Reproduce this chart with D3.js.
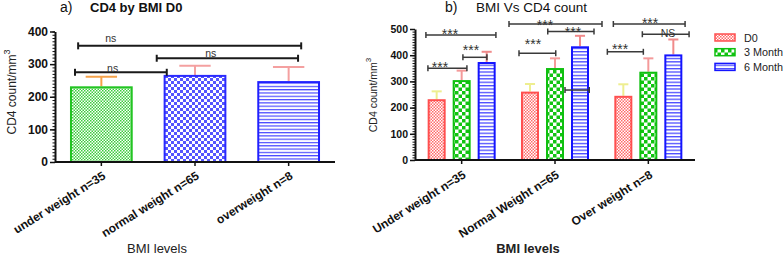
<!DOCTYPE html>
<html><head><meta charset="utf-8">
<script src="https://cdn.jsdelivr.net/npm/d3@7"></script>
<style>body{margin:0;background:#fff}svg{display:block;font-family:"Liberation Sans",Arial,sans-serif}</style>
</head><body><svg id="c" width="784" height="255"></svg>
<script>
// ---------- data ----------
const leftCats = ["under weight n=35", "normal weight n=65", "overweight n=8"];
const leftMeans = [232, 267, 248];
const leftSD = [29, 28, 43];
const leftTicks = [0, 100, 200, 300, 400];

const rightCats = ["Under weight n=35", "Normal Weight n=65", "Over weight n=8"];
const seriesNames = ["D0", "3 Month", "6 Month"];
const d0Means = [232, 261, 245];
const d0SD = [30, 29, 44];
const m3Means = [305, 351, 337];
const m3SD = [36, 37, 51];
const m6Means = [374, 434, 403];
const m6SD = [39, 40, 57];
const rightTicks = [0, 100, 200, 300, 400, 500];

// significance annotations (left: category index + fraction of bar width; right: group index + offset in bar steps)
const leftSig = [
  {c1: 0, f1: 0.13, c2: 2, f2: 0.70, y: 356, label: "ns", lc: 0, lf: 0.65, ly: 380},
  {c1: 1, f1: -0.11, c2: 2, f2: 0.65, y: 318, label: "ns", lc: 1, lf: 0.75, ly: 332},
  {c1: 0, f1: 0.08, c2: 1, f2: 0.05, y: 275, label: "ns", lc: 0, lf: 0.68, ly: 286}
];
const rightSig = [
  {g: 0, a: -1.43, b: 1.37, y: 477, label: "***", la: -0.47, ly: 495},
  {g: 0, a: -1.35, b: 0.21, y: 350, label: "***", la: -0.87, ly: 368},
  {g: 0, a: 0.05, b: 1.01, y: 392, label: "***", la: 0.37, ly: 432},
  {g: 1, a: -1.84, b: 1.88, y: 519, label: "***", la: -0.40, ly: 527},
  {g: 1, a: -0.29, b: 1.56, y: 490, label: "***", la: 0.72, ly: 501},
  {g: 1, a: -1.44, b: 0.03, y: 407, label: "***", la: -0.88, ly: 457},
  {g: 1, a: 0.40, b: 1.37, y: 267, label: "", la: 0, ly: 0},
  {g: 2, a: -1.40, b: 1.47, y: 519, label: "***", la: 0.07, ly: 535},
  {g: 2, a: -0.24, b: 1.63, y: 480, label: "NS", la: 0.79, ly: 486},
  {g: 2, a: -1.64, b: -0.20, y: 413, label: "***", la: -1.13, ly: 438}
];

// ---------- styles ----------
const svg = d3.select("#c");
const defs = svg.append("defs");
function checker(id, s, color) {
  const p = defs.append("pattern").attr("id", id).attr("patternUnits", "userSpaceOnUse")
    .attr("width", 2 * s).attr("height", 2 * s);
  p.append("rect").attr("width", 2 * s).attr("height", 2 * s).attr("fill", "#fff");
  p.append("rect").attr("width", s).attr("height", s).attr("fill", color);
  p.append("rect").attr("x", s).attr("y", s).attr("width", s).attr("height", s).attr("fill", color);
}
function stripes(id, gap, lw, color) {
  const p = defs.append("pattern").attr("id", id).attr("patternUnits", "userSpaceOnUse")
    .attr("width", 10).attr("height", gap);
  p.append("rect").attr("width", 10).attr("height", gap).attr("fill", "#fff");
  p.append("rect").attr("y", 0).attr("width", 10).attr("height", lw).attr("fill", color);
}
checker("gFine", 1.5, "#3ccc3c");
checker("bCheck", 3, "#5555ff");
stripes("bStripe", 3.3, 1.2, "#4a4aff");
checker("rFine", 1.5, "#ff6a6a");
checker("gCheck", 3.5, "#11c411");
stripes("bStripe2", 3.4, 1.3, "#4a4aff");

const leftFill = ["url(#gFine)", "url(#bCheck)", "url(#bStripe)"];
const leftStroke = ["#22c422", "#2a2aff", "#2020ff"];
const leftErrColor = ["#f5a24a", "#f4a0a0", "#f4a0a0"];
const rightFill = ["url(#rFine)", "url(#gCheck)", "url(#bStripe2)"];
const rightStroke = ["#ff4f4f", "#10c010", "#1414ff"];
const rightErrColor = ["#eeee90", "#f49a9a", "#f08a8a"];

function styleAxis(g, fs, bold) {
  g.select(".domain").attr("stroke", "#111").attr("stroke-width", 2);
  g.selectAll(".tick line").attr("stroke", "#111").attr("stroke-width", 1.5);
  g.selectAll(".tick text").attr("font-size", fs).attr("font-weight", bold ? "bold" : "normal")
    .attr("fill", "#111").attr("font-family", "Liberation Sans, Arial, sans-serif");
}

// ---------- LEFT CHART ----------
const xL = d3.scaleBand().domain(leftCats).range([55, 335]).paddingInner(0.33).paddingOuter(0.16);
const yL = d3.scaleLinear().domain([0, 400]).range([162, 31.5]);
const gL = svg.append("g");

// minor ticks
gL.append("g").attr("transform", "translate(55,0)")
  .call(d3.axisLeft(yL).tickValues(d3.range(0, 401, 10)).tickSize(2.5).tickFormat(""))
  .call(g => { g.select(".domain").remove(); g.selectAll(".tick line").attr("stroke", "#111").attr("stroke-width", 1); });
gL.append("g").attr("transform", "translate(55,0)")
  .call(d3.axisLeft(yL).tickValues(leftTicks).tickSize(5).tickSizeOuter(0).tickPadding(2))
  .call(g => styleAxis(g, 12, true));

// error bars
leftCats.forEach((c, i) => {
  const cx = xL(c) + xL.bandwidth() / 2, hw = xL.bandwidth() / 4;
  const e = gL.append("g").attr("stroke", leftErrColor[i]).attr("stroke-width", 2);
  e.append("line").attr("x1", cx).attr("x2", cx).attr("y1", yL(leftMeans[i])).attr("y2", yL(leftMeans[i] + leftSD[i]));
  e.append("line").attr("x1", cx - hw).attr("x2", cx + hw).attr("y1", yL(leftMeans[i] + leftSD[i])).attr("y2", yL(leftMeans[i] + leftSD[i]));
});
gL.selectAll("rect.bar").data(leftMeans).join("rect").attr("class", "bar")
  .attr("x", (d, i) => xL(leftCats[i]) + 1).attr("width", xL.bandwidth() - 2)
  .attr("y", d => yL(d) + 1).attr("height", d => yL(0) - yL(d) - 1)
  .attr("fill", (d, i) => leftFill[i]).attr("stroke", (d, i) => leftStroke[i]).attr("stroke-width", 2);

const xAxL = gL.append("g").attr("transform", "translate(0,162)")
  .call(d3.axisBottom(xL).tickSize(4).tickSizeOuter(0))
  .call(g => styleAxis(g, 12, true));
xAxL.select(".domain").attr("d", "M55,0H335");
xAxL.selectAll(".tick text").attr("x", 0).attr("y", 0).attr("dy", 0).attr("text-anchor", "end")
  .attr("transform", "translate(5,16) rotate(-32)");

// significance brackets
leftSig.forEach(s => {
  const x1 = xL(leftCats[s.c1]) + s.f1 * xL.bandwidth(), x2 = xL(leftCats[s.c2]) + s.f2 * xL.bandwidth();
  const y = yL(s.y);
  const b = gL.append("g").attr("stroke", "#1a1a1a").attr("stroke-width", 2);
  b.append("line").attr("x1", x1).attr("x2", x2).attr("y1", y).attr("y2", y);
  b.append("line").attr("x1", x1).attr("x2", x1).attr("y1", y - 3.5).attr("y2", y + 3.5);
  b.append("line").attr("x1", x2).attr("x2", x2).attr("y1", y - 3.5).attr("y2", y + 3.5);
  gL.append("text").attr("x", xL(leftCats[s.lc]) + s.lf * xL.bandwidth()).attr("y", yL(s.ly) + 3.5)
    .attr("text-anchor", "middle").attr("font-size", 10.5).attr("fill", "#333").text(s.label);
});

// titles & labels
svg.append("text").attr("x", 60).attr("y", 12).attr("font-size", 14).attr("fill", "#111").text("a)");
svg.append("text").attr("x", 90).attr("y", 12).attr("font-size", 13).attr("font-weight", "bold").attr("fill", "#111").text("CD4 by BMI D0");
const ylL = svg.append("text").attr("transform", "translate(16,92) rotate(-90)").attr("text-anchor", "middle")
  .attr("font-size", 12).attr("fill", "#222");
ylL.append("tspan").text("CD4 count/mm");
ylL.append("tspan").attr("font-size", 9).attr("dy", -6).text("3");
svg.append("text").attr("x", 157).attr("y", 253).attr("text-anchor", "middle").attr("font-size", 13)
  .attr("fill", "#222").text("BMI levels");

// ---------- RIGHT CHART ----------
const xR = d3.scaleBand().domain(rightCats).range([415, 695]).padding(0);
const xI = d3.scaleBand().domain(seriesNames).range([0, 68]).paddingInner(0.28);
const yR = d3.scaleLinear().domain([0, 500]).range([160, 29]);
const gR = svg.append("g");
const rMeans = [d0Means, m3Means, m6Means];
const rSD = [d0SD, m3SD, m6SD];
const center = c => xR(c) + xR.bandwidth() / 2;

gR.append("g").attr("transform", "translate(415,0)")
  .call(d3.axisLeft(yR).tickValues(d3.range(0, 501, 10)).tickSize(2.5).tickFormat(""))
  .call(g => { g.select(".domain").remove(); g.selectAll(".tick line").attr("stroke", "#111").attr("stroke-width", 1); });
gR.append("g").attr("transform", "translate(415,0)")
  .call(d3.axisLeft(yR).tickValues(rightTicks).tickSize(5).tickSizeOuter(0).tickPadding(2))
  .call(g => styleAxis(g, 10.5, true));

const barData = [];
rightCats.forEach((c, gi) => seriesNames.forEach((s, si) =>
  barData.push({c, s, gi, si, v: rMeans[si][gi], sd: rSD[si][gi]})));

barData.forEach(d => {
  const cx = center(d.c) - 34 + xI(d.s) + xI.bandwidth() / 2, hw = xI.bandwidth() * 0.28;
  const e = gR.append("g").attr("stroke", rightErrColor[d.si]).attr("stroke-width", 2);
  e.append("line").attr("x1", cx).attr("x2", cx).attr("y1", yR(d.v)).attr("y2", yR(d.v + d.sd));
  e.append("line").attr("x1", cx - hw).attr("x2", cx + hw).attr("y1", yR(d.v + d.sd)).attr("y2", yR(d.v + d.sd));
});
gR.selectAll("rect.bar").data(barData).join("rect").attr("class", "bar")
  .attr("x", d => center(d.c) - 34 + xI(d.s) + 1).attr("width", xI.bandwidth() - 2)
  .attr("y", d => yR(d.v) + 1).attr("height", d => yR(0) - yR(d.v) - 1)
  .attr("fill", d => rightFill[d.si]).attr("stroke", d => rightStroke[d.si]).attr("stroke-width", 2);

const xAxR = gR.append("g").attr("transform", "translate(0,160)")
  .call(d3.axisBottom(xR).tickSize(4).tickSizeOuter(0))
  .call(g => styleAxis(g, 12, true));
xAxR.select(".domain").attr("d", "M415,0H695");
xAxR.selectAll(".tick text").attr("x", 0).attr("y", 0).attr("dy", 0).attr("text-anchor", "end")
  .attr("transform", "translate(5,17) rotate(-32)");

const step = xI.step();
rightSig.forEach(s => {
  const c = center(rightCats[s.g]);
  const x1 = c + s.a * step, x2 = c + s.b * step, y = yR(s.y);
  const b = gR.append("g").attr("stroke", "#3a3a3a").attr("stroke-width", 1.5);
  b.append("line").attr("x1", x1).attr("x2", x2).attr("y1", y).attr("y2", y);
  b.append("line").attr("x1", x1).attr("x2", x1).attr("y1", y - 3).attr("y2", y + 3);
  b.append("line").attr("x1", x2).attr("x2", x2).attr("y1", y - 3).attr("y2", y + 3);
  if (s.label) {
    const isStar = s.label === "***";
    gR.append("text").attr("x", c + s.la * step).attr("y", yR(s.ly) + (isStar ? 8.5 : 4))
      .attr("text-anchor", "middle").attr("font-size", isStar ? 14 : 10.5).attr("fill", "#333").text(s.label);
  }
});

svg.append("text").attr("x", 445).attr("y", 12).attr("font-size", 14).attr("fill", "#111").text("b)");
svg.append("text").attr("x", 476).attr("y", 12).attr("font-size", 13.5).attr("fill", "#111").text("BMI Vs CD4 count");
const ylR = svg.append("text").attr("transform", "translate(377,95) rotate(-90)").attr("text-anchor", "middle")
  .attr("font-size", 10.5).attr("fill", "#222");
ylR.append("tspan").text("CD4 count/mm");
ylR.append("tspan").attr("font-size", 8).attr("dy", -6).text("3");
svg.append("text").attr("x", 528).attr("y", 253).attr("text-anchor", "middle").attr("font-size", 13)
  .attr("font-weight", "bold").attr("fill", "#222").text("BMI levels");

// legend
const leg = svg.append("g");
seriesNames.forEach((s, i) => {
  const y = 37.5 + i * 14.7;
  leg.append("rect").attr("x", 715).attr("y", y - 3.5).attr("width", 20).attr("height", 7)
    .attr("fill", rightFill[i]).attr("stroke", rightStroke[i]).attr("stroke-width", 1.5);
  leg.append("text").attr("x", 744).attr("y", y + 4).attr("font-size", 10.8).attr("fill", "#222").text(s);
});
</script></body></html>
